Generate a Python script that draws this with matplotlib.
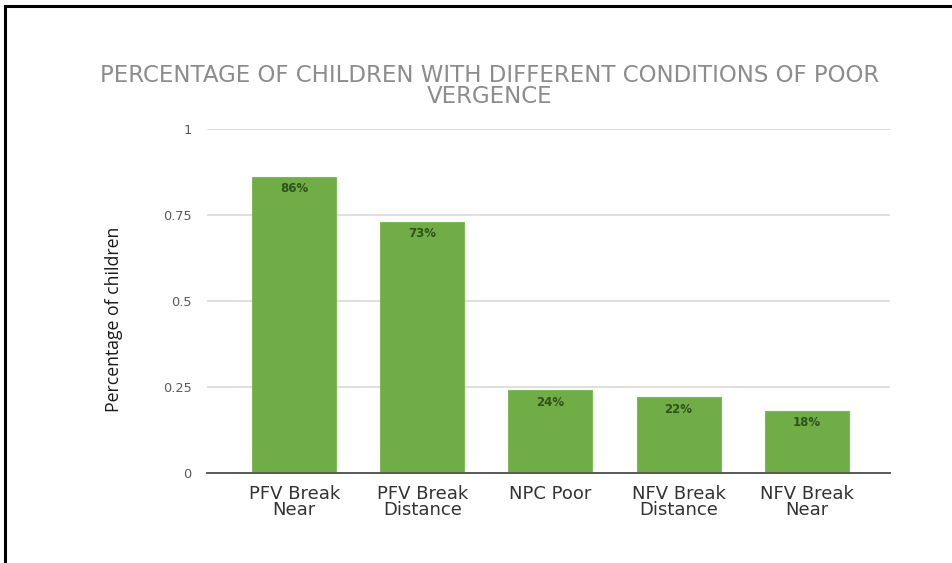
import matplotlib
matplotlib.use("Agg")
import matplotlib.pyplot as plt
from matplotlib.patches import Rectangle

# ── Data ─────────────────────────────────────────────────────────────────────
categories = ["PFV Break\nNear", "PFV Break\nDistance", "NPC Poor",
              "NFV Break\nDistance", "NFV Break\nNear"]
shares = [0.86, 0.73, 0.24, 0.22, 0.18]
bar_labels = ["86%", "73%", "24%", "22%", "18%"]
y_ticks = [0, 0.25, 0.5, 0.75, 1]
y_tick_labels = ["0", "0.25", "0.5", "0.75", "1"]

GREEN = "#70ad47"
DARK_GREEN = "#2f5219"
GRID = "#d9d9d9"

fig = plt.figure(figsize=(9.53, 5.63), dpi=100, facecolor="white")

# black frame, only the top and left edges fall inside the canvas
fig.add_artist(Rectangle((0.005, -0.1), 1.2, 1.09, transform=fig.transFigure,
                         fill=False, edgecolor="black", linewidth=2.2))

ax = fig.add_axes([0.2172, 0.1599, 0.7167, 0.611])

x = list(range(len(categories)))
ax.bar(x, shares, width=0.655, color=GREEN, edgecolor="#7dbb52",
       linewidth=0.8, zorder=3)

for xi, v, lab in zip(x, shares, bar_labels):
    ax.annotate(lab, (xi, v), xytext=(0, -8.5), textcoords="offset points",
                ha="center", va="center", fontsize=8.5, fontweight="bold",
                color=DARK_GREEN, family="DejaVu Sans", zorder=4)

ax.set_xlim(-0.68, 4.65)
ax.set_ylim(0, 1)
ax.set_yticks(y_ticks)
ax.set_yticklabels(y_tick_labels, fontsize=9.3, color="#595959", family="DejaVu Sans")
ax.set_xticks(x)
ax.set_xticklabels(categories, fontsize=13, color="#333333",
                   family="DejaVu Sans", linespacing=0.83)
ax.tick_params(axis="both", length=0)
ax.tick_params(axis="y", pad=11)
ax.tick_params(axis="x", pad=9)

ax.yaxis.grid(True, color=GRID, linewidth=1.2, zorder=0)
for side in ("top", "right", "left"):
    ax.spines[side].set_visible(False)
ax.spines["bottom"].set_color("#595959")
ax.spines["bottom"].set_linewidth(1.4)
ax.spines["bottom"].set_zorder(5)

fig.text(0.12, 0.432, "Percentage of children", rotation=90, ha="center",
         va="center", fontsize=12.7, color="#1a1a1a", family="Open Sans")

fig.text(0.514, 0.847, "PERCENTAGE OF CHILDREN WITH DIFFERENT CONDITIONS OF POOR\nVERGENCE",
         ha="center", va="center", fontsize=16.5, color="#8c8c8c",
         family="DejaVu Sans", linespacing=0.85)

fig.savefig("out.png", dpi=100, facecolor="white")
